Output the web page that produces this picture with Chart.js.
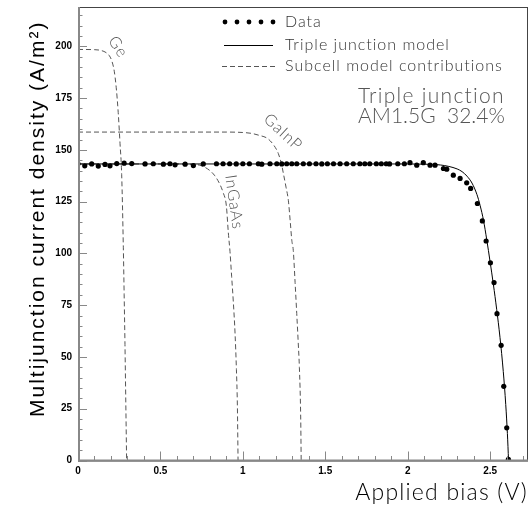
<!DOCTYPE html>
<html>
<head>
<meta charset="utf-8">
<script src="https://cdn.jsdelivr.net/npm/chart.js@4.4.1/dist/chart.umd.min.js"></script>
<style>
body { margin: 0; background: #fff; }
#wrap { width: 532px; height: 505px; }
</style>
</head>
<body>
<div id="wrap"><canvas id="myChart" width="532" height="505"></canvas></div>
<script>
// measured points (V, A/m^2)
var dataVoltage = [0, 0.041, 0.083, 0.123, 0.164, 0.194, 0.235, 0.28, 0.326, 0.407, 0.457, 0.518, 0.558, 0.589,
    0.65, 0.70, 0.76, 0.84, 0.88, 0.92, 0.96, 1.0, 1.04, 1.094, 1.115, 1.165, 1.206, 1.236, 1.266, 1.297, 1.327,
    1.367, 1.404, 1.444, 1.479, 1.513, 1.55, 1.59, 1.63, 1.67, 1.71, 1.74, 1.77, 1.81, 1.84, 1.87, 1.89, 1.94,
    1.98, 2.014, 2.055, 2.095, 2.136, 2.166, 2.217, 2.237, 2.277, 2.318, 2.358, 2.382, 2.423, 2.453, 2.476,
    2.502, 2.524, 2.542, 2.567, 2.583, 2.601, 2.611];
var dataCurrent = [143.3, 142.3, 143.2, 142.2, 143.0, 142.3, 143.4, 143.6, 143.4, 143.2, 143.3, 143.1, 143.3, 142.8,
    143.1, 142.4, 143.2, 143.3, 143.3, 143.3, 143.2, 143.3, 143.3, 143.3, 143.1, 143.3, 143.3, 143.2, 143.3, 143.3, 143.3,
    143.3, 143.3, 143.3, 143.2, 143.3, 143.3, 143.3, 143.3, 143.3, 143.3, 143.3, 143.3, 143.3, 143.3, 143.3, 143.2, 143.3,
    143.3, 143.8, 142.6, 143.8, 142.6, 142.6, 141.0, 140.7, 137.8, 136.2, 134.1, 131.4, 124.1, 115.7, 106.0,
    95.5, 85.9, 70.9, 55.6, 35.8, 15.8, 0.6];

// triple junction model
var modelVoltage = [0, 0.5, 1.0, 1.5, 2.0, 2.1, 2.15, 2.2, 2.25, 2.3, 2.33, 2.36, 2.39, 2.42, 2.44, 2.46, 2.48,
    2.5, 2.52, 2.54, 2.56, 2.58, 2.595, 2.605, 2.612];
var modelCurrent = [143.2, 143.2, 143.2, 143.2, 143.2, 143.1, 143.0, 142.7, 142.0, 140.8, 139.5, 137.3, 134.0,
    128.5, 123.0, 116.0, 106.5, 96.0, 85.0, 73.0, 59.5, 43.0, 27.0, 13.0, 0];

// subcell contributions
var geVoltage = [0, 0.1, 0.14, 0.17, 0.19, 0.205, 0.22, 0.232, 0.244, 0.255, 0.265, 0.275, 0.28, 0.285, 0.29, 0.295];
var geCurrent = [198.5, 198.4, 198.0, 197.0, 195.5, 193.0, 188.0, 180.0, 168.0, 153.0, 138.0, 103.0, 80.0, 56.0, 28.0, 0];
var ingaasVoltage = [0, 0.6, 0.7, 0.75, 0.8, 0.83, 0.86, 0.88, 0.9, 0.912, 0.922, 0.932, 0.942, 0.953, 0.961, 0.967, 0.971];
var ingaasCurrent = [143.2, 143.2, 143.0, 142.3, 140.0, 137.5, 133.5, 129.5, 123.0, 110.0, 101.0, 89.0, 77.0, 61.0, 44.0, 26.0, 0];
var gainpVoltage = [0, 0.9, 1.0, 1.05, 1.1, 1.15, 1.19, 1.215, 1.235, 1.246, 1.262, 1.276, 1.288, 1.297, 1.306,
    1.317, 1.327, 1.336, 1.343, 1.351, 1.354];
var gainpCurrent = [158.6, 158.6, 158.4, 158.0, 157.0, 155.5, 152.0, 148.3, 143.0, 138.6, 132.0, 125.7, 115.0, 106.4,
    101.5, 86.0, 71.0, 57.0, 45.0, 21.0, 0];

var legendLabels = ['Data', 'Triple junction model', 'Subcell model contributions'];
var subcellNames = ['Ge', 'InGaAs', 'GaInP'];
var noteLines = ['Triple junction', 'AM1.5G  32.4%'];
var xTitle = 'Applied bias (V)';
var yTitle = 'Multijunction current density (A/m\u00b2)';

var thinFont = 'Lato, "DejaVu Sans", sans-serif';
var labelFont = { family: '"Liberation Sans", Arial, sans-serif', size: 10, weight: 'bold' };

function pairs(xs, ys) {
    return xs.map(function(x, i) { return { x: x, y: ys[i] }; });
}

function dashed(label, xs, ys) {
    return {
        label: label,
        data: pairs(xs, ys),
        showLine: true,
        borderColor: '#555',
        borderWidth: 1,
        borderDash: [5, 3],
        pointRadius: 0,
        cubicInterpolationMode: 'monotone',
        order: 3
    };
}

// frame + inward ticks like the original
var framePlugin = {
    id: 'frame',
    afterDraw: function(chart) {
        var c = chart.ctx, a = chart.chartArea;
        var xs = chart.scales.x, ys = chart.scales.y;
        c.save();
        c.strokeStyle = '#444';
        c.lineWidth = 1;
        c.strokeRect(a.left + 0.5, a.top + 0.5, a.right - a.left - 1, a.bottom - a.top);
        c.strokeStyle = '#888';
        c.lineWidth = 1;
        var i, p, len;
        for (i = 0; i <= 43; i++) {
            p = Math.round(ys.getPixelForValue(i * 5)) + 0.5;
            len = (i % 5 === 0) ? 9 : 4.5;
            c.beginPath(); c.moveTo(a.left, p); c.lineTo(a.left + len, p); c.stroke();
        }
        for (i = 0; i <= 27; i++) {
            p = Math.round(xs.getPixelForValue(i / 10)) + 0.5;
            len = (i % 5 === 0) ? 9 : 4.5;
            c.beginPath(); c.moveTo(p, a.bottom); c.lineTo(p, a.bottom - len); c.stroke();
        }
        c.lineWidth = 2;
        c.beginPath();
        c.moveTo(a.left + 1, a.top); c.lineTo(a.left + 1, a.bottom); c.lineTo(a.right, a.bottom);
        c.stroke();
        c.restore();
    }
};

var textPlugin = {
    id: 'texts',
    afterDraw: function(chart) {
        var c = chart.ctx, a = chart.chartArea;
        var xs = chart.scales.x, ys = chart.scales.y;
        c.save();
        // axis titles
        c.fillStyle = '#000';
        c.font = '21px "Liberation Sans", Arial, sans-serif';
        c.textAlign = 'left';
        c.textBaseline = 'alphabetic';
        c.letterSpacing = '2px';
        c.save();
        c.translate(44, 417);
        c.rotate(-Math.PI / 2);
        c.fillText(yTitle, 0, 0);
        c.restore();
        c.textAlign = 'right';
        c.letterSpacing = '1.2px';
        c.font = '300 23px ' + thinFont;
        c.fillText(xTitle, 528, 500);

        // legend
        c.fillStyle = '#000';
        for (var k = 0; k < 5; k++) {
            c.beginPath(); c.arc(225 + k * 12, 22, 2.4, 0, Math.PI * 2); c.fill();
        }
        c.strokeStyle = '#000'; c.lineWidth = 1;
        c.beginPath(); c.moveTo(224, 45.5); c.lineTo(273, 45.5); c.stroke();
        c.strokeStyle = '#555'; c.setLineDash([5, 3]);
        c.beginPath(); c.moveTo(222, 66.5); c.lineTo(276, 66.5); c.stroke();
        c.setLineDash([]);
        c.fillStyle = '#333';
        c.font = '300 16px ' + thinFont;
        c.textAlign = 'left';
        c.textBaseline = 'middle';
        c.letterSpacing = '1px';
        c.fillText(legendLabels[0], 285, 22);
        c.fillText(legendLabels[1], 285, 45);
        c.fillText(legendLabels[2], 285, 66);

        // efficiency note
        c.fillStyle = '#555';
        c.font = '300 21px ' + thinFont;
        c.textBaseline = 'alphabetic';
        c.letterSpacing = '1.3px';
        c.fillText(noteLines[0], xs.getPixelForValue(1.699), ys.getPixelForValue(172.6));
        c.letterSpacing = '0px';
        c.fillText(noteLines[1], xs.getPixelForValue(1.699), ys.getPixelForValue(162.8));

        // subcell labels along curves
        var tags = [[0.243, 199.7, 57], [0.947, 124.8, 82], [1.244, 158.5, 43]];
        c.font = '300 16px ' + thinFont;
        c.textAlign = 'center';
        c.textBaseline = 'middle';
        c.letterSpacing = '1px';
        tags.forEach(function(t, i) {
            c.save();
            c.translate(xs.getPixelForValue(t[0]), ys.getPixelForValue(t[1]));
            c.rotate(t[2] * Math.PI / 180);
            c.fillText(subcellNames[i], 0, 0);
            c.restore();
        });
        c.restore();
    }
};

var ctx = document.getElementById('myChart').getContext('2d');
var myChart = new Chart(ctx, {
    type: 'scatter',
    data: {
        datasets: [{
            label: legendLabels[0],
            data: pairs(dataVoltage, dataCurrent),
            backgroundColor: '#000',
            borderColor: '#000',
            pointRadius: 2.6,
            pointBorderWidth: 0,
            order: 1
        }, {
            label: legendLabels[1],
            data: pairs(modelVoltage, modelCurrent),
            showLine: true,
            borderColor: '#000',
            borderWidth: 1,
            pointRadius: 0,
            cubicInterpolationMode: 'monotone',
            order: 2
        },
        dashed(subcellNames[0], geVoltage, geCurrent),
        dashed(subcellNames[1], ingaasVoltage, ingaasCurrent),
        dashed(subcellNames[2], gainpVoltage, gainpCurrent)]
    },
    options: {
        responsive: false,
        animation: false,
        layout: { padding: { top: 7, right: 4, left: 0, bottom: 0 } },
        plugins: {
            legend: { display: false },
            tooltip: { enabled: false }
        },
        scales: {
            x: {
                type: 'linear',
                min: 0,
                max: 2.73,
                grid: { display: false, drawTicks: false },
                border: { display: false },
                ticks: {
                    stepSize: 0.5,
                    includeBounds: false,
                    autoSkip: false,
                    maxRotation: 0,
                    padding: 5,
                    color: '#000',
                    font: labelFont,
                    callback: function(v) { return String(v); }
                },
                afterFit: function(s) {
                    s.height = 44.5;
                    s.paddingLeft = 0;
                    s.paddingRight = 0;
                }
            },
            y: {
                type: 'linear',
                min: 0,
                max: 219,
                grid: { display: false, drawTicks: false },
                border: { display: false },
                ticks: {
                    stepSize: 25,
                    includeBounds: false,
                    autoSkip: false,
                    padding: 6,
                    color: '#000',
                    font: labelFont,
                    callback: function(v) { return String(v); }
                },
                afterFit: function(s) {
                    s.width = 78;
                    s.paddingTop = 0;
                    s.paddingBottom = 0;
                }
            }
        }
    },
    plugins: [framePlugin, textPlugin]
});
</script>
</body>
</html>
